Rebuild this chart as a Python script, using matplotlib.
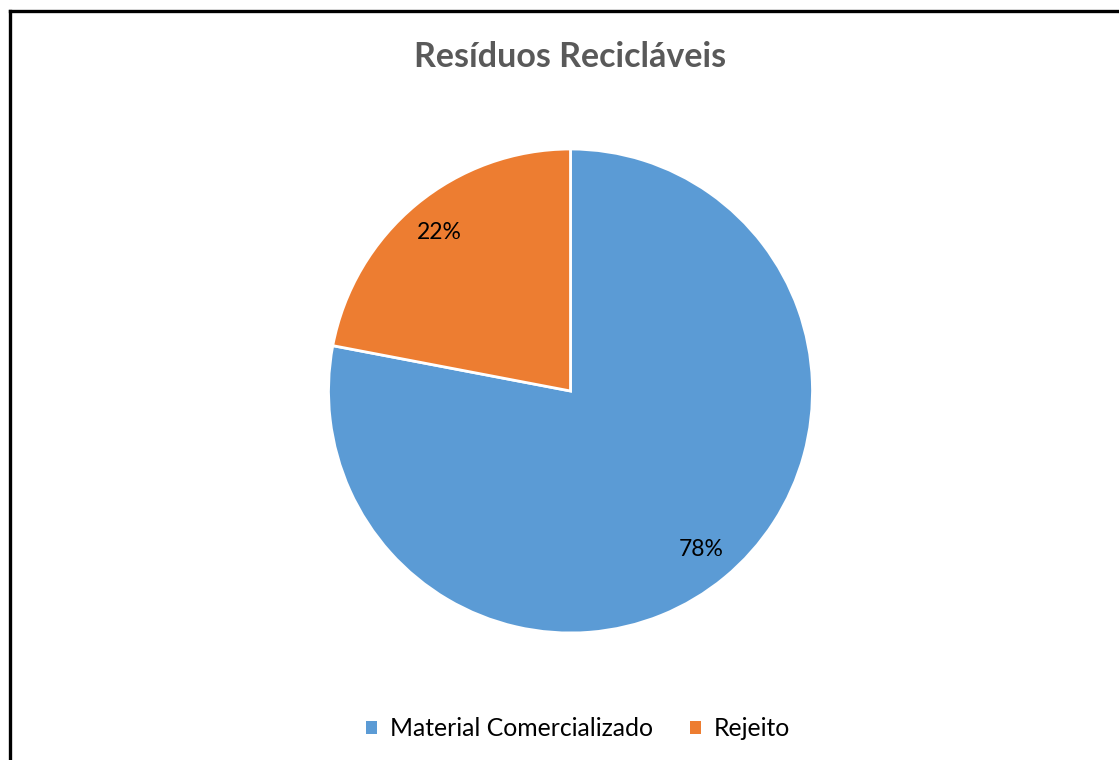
import matplotlib
matplotlib.use("Agg")
import matplotlib.pyplot as plt
from matplotlib.patches import Rectangle
from matplotlib.lines import Line2D

# data
labels = ["Material Comercializado", "Rejeito"]
values = [78, 22]
colors = ["#5b9bd5", "#ed7d31"]

plt.rcParams["font.family"] = ["Lato", "DejaVu Sans"]

W, H = 1119, 760
fig = plt.figure(figsize=(W / 100, H / 100), dpi=100)

# pie axes: centre (570, 391) px, radius 242 px
cx, cy, r = 570.5, 391, 242
ax = fig.add_axes([(cx - r) / W, (H - cy - r) / H, 2 * r / W, 2 * r / H])
wedges, _, autotexts = ax.pie(
    values, colors=colors, startangle=90, counterclock=False,
    autopct="%1.0f%%", pctdistance=0.85,
    wedgeprops=dict(edgecolor="white", linewidth=2),
    textprops=dict(fontsize=16.5, color="black"),
)
ax.set_xlim(-1, 1)
ax.set_ylim(-1, 1)
ax.set_aspect("auto")
ax.axis("off")

fig.text(cx / W, 1 - 57 / H, "Resíduos Recicláveis", ha="center", va="center",
         fontsize=24.5, fontweight="bold", color="#595959")

handles = [Rectangle((0, 0), 1, 1, facecolor=c, edgecolor="none") for c in colors]
fig.legend(handles, labels, loc="center", bbox_to_anchor=(578 / W, 1 - 729 / H),
           ncol=2, frameon=False, fontsize=17.8, handlelength=0.45, handleheight=0.45,
           handletextpad=0.5, columnspacing=1.5)

# chart frame (only top and left edges visible)
fig.add_artist(Line2D([9.5 / W, 1], [1 - 11 / H, 1 - 11 / H], color="black", linewidth=2.4,
                      transform=fig.transFigure))
fig.add_artist(Line2D([9.5 / W, 9.5 / W], [0, 1 - 11 / H], color="black", linewidth=2.4,
                      transform=fig.transFigure))

fig.savefig("out.png", dpi=100)
